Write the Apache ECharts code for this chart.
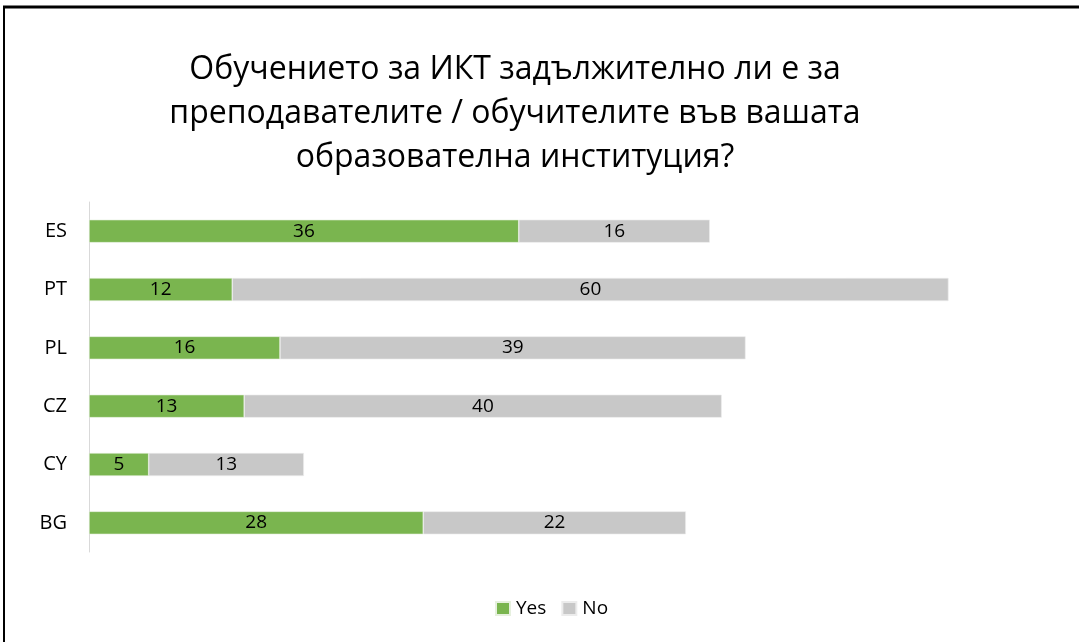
<!DOCTYPE html>
<html>
<head>
<meta charset="utf-8">
<script src="https://cdn.jsdelivr.net/npm/echarts@6/dist/echarts.min.js"></script>
<style>
html,body{margin:0;padding:0;background:#fff;}
#chart{width:1079px;height:642px;}
</style>
</head>
<body>
<div id="chart"></div>
<script>
const titleText = 'Обучението за ИКТ задължително ли е за\nпреподавателите / обучителите във вашата\nобразователна институция?';
const categories = ['BG', 'CY', 'CZ', 'PL', 'PT', 'ES'];
const yesValues = [28, 5, 13, 16, 12, 36];
const noValues = [22, 13, 40, 39, 60, 16];
const seriesNames = ['Yes', 'No'];

const FONT = '"Open Sans", "Noto Sans", sans-serif';
const chart = echarts.init(document.getElementById('chart'), null, {renderer: 'canvas'});
chart.setOption({
  animation: false,
  backgroundColor: '#ffffff',
  title: {
    text: titleText,
    left: 510,
    textAlign: 'center',
    top: 43,
    textStyle: {fontFamily: FONT, fontSize: 32, fontWeight: 'normal', color: '#000', lineHeight: 44}
  },
  legend: {
    data: seriesNames,
    left: 490,
    top: 594,
    padding: 5,
    itemWidth: 14,
    itemHeight: 13,
    itemGap: 15,
    icon: 'rect',
    textStyle: {fontFamily: FONT, fontSize: 19, color: '#000', padding: [0, 0, 0, 1]}
  },
  grid: {left: 89, right: 35, top: 202, bottom: 90, containLabel: false},
  xAxis: {
    type: 'value', min: 0, max: 80, interval: 10,
    show: false
  },
  yAxis: {
    type: 'category',
    data: categories,
    axisLine: {show: true, lineStyle: {color: '#d9d9d9', width: 1}},
    axisTick: {show: false},
    axisLabel: {fontFamily: FONT, fontSize: 20, color: '#000', margin: 22}
  },
  series: [
    {
      name: seriesNames[0], type: 'bar', stack: 'a', data: yesValues,
      barWidth: 23,
      itemStyle: {color: '#7ab54f', borderColor: '#e6f0de', borderWidth: 0.6},
      label: {show: true, position: 'inside', fontFamily: FONT, fontSize: 19, color: '#000'}
    },
    {
      name: seriesNames[1], type: 'bar', stack: 'a', data: noValues,
      barWidth: 23,
      itemStyle: {color: '#c8c8c8', borderColor: '#ececec', borderWidth: 0.6},
      label: {show: true, position: 'inside', fontFamily: FONT, fontSize: 19, color: '#000'}
    }
  ],
  graphic: [
    {type: 'line', shape: {x1: 3, y1: 7, x2: 1079, y2: 7}, style: {stroke: '#000', lineWidth: 3}},
    {type: 'line', shape: {x1: 4, y1: 6, x2: 4, y2: 642}, style: {stroke: '#000', lineWidth: 2}}
  ]
});
</script>
</body>
</html>
